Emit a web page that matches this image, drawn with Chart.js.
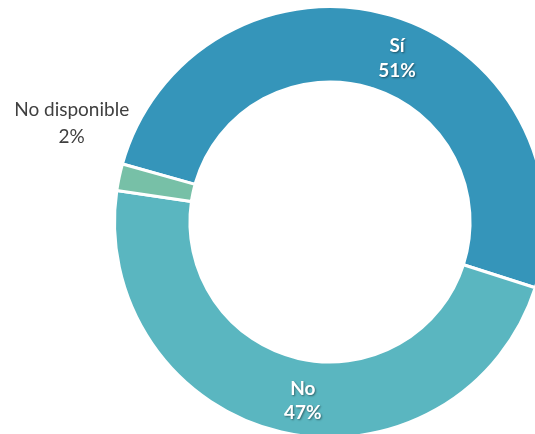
<!DOCTYPE html>
<html>
<head>
<meta charset="utf-8">
<script src="https://cdn.jsdelivr.net/npm/chart.js@4.4.1/dist/chart.umd.min.js"></script>
<style>
  html, body { margin: 0; padding: 0; background: #ffffff; }
  #wrap { position: relative; width: 535px; height: 434px; overflow: hidden; background: #ffffff; }
  canvas { position: absolute; left: 0; top: 0; }
</style>
</head>
<body>
<div id="wrap"><canvas id="c" width="560" height="460"></canvas></div>
<script>
const categories = ['Sí', 'No', 'No disponible'];
const values = [50.6, 47.4, 2.0];
const percentLabels = ['51%', '47%', '2%'];

const colors = ['#3595BA', '#5AB6C0', '#77C0A7'];
// label placement: mode, offset from arc reference point (px), line spacing
const labelStyle = [
  { mode: 'inside', dx: 16, dy: 13, lh: 25, color: '#ffffff', weight: 'bold' },
  { mode: 'inside', dx: 13, dy: 12, lh: 24, color: '#ffffff', weight: 'bold' },
  { mode: 'outside', dx: -49, dy: -48, lh: 27, color: '#404040', weight: 'normal' }
];

const labelPlugin = {
  id: 'sliceLabels',
  afterDatasetsDraw(chart) {
    const ctx = chart.ctx;
    const meta = chart.getDatasetMeta(0);
    meta.data.forEach((arc, i) => {
      const p = arc.getProps(['x', 'y', 'startAngle', 'endAngle', 'innerRadius', 'outerRadius'], true);
      const mid = (p.startAngle + p.endAngle) / 2;
      const st = labelStyle[i];
      const r = st.mode === 'inside' ? (p.innerRadius + p.outerRadius) / 2 : p.outerRadius - 1.5;
      const cx = p.x + Math.cos(mid) * r + st.dx;
      const cy = p.y + Math.sin(mid) * r + st.dy;
      ctx.save();
      ctx.font = st.weight + ' 19px Lato, "Open Sans", sans-serif';
      ctx.fillStyle = st.color;
      ctx.textAlign = 'center';
      ctx.textBaseline = 'alphabetic';
      if (st.mode === 'inside') {
        ctx.shadowColor = 'rgba(0,0,0,0.45)';
        ctx.shadowBlur = 2;
        ctx.shadowOffsetX = 1;
        ctx.shadowOffsetY = 1;
      }
      ctx.fillText(categories[i], cx, cy - st.lh / 2);
      ctx.fillText(percentLabels[i], cx, cy + st.lh / 2);
      ctx.restore();
    });
  }
};

new Chart(document.getElementById('c'), {
  type: 'doughnut',
  data: {
    labels: categories,
    datasets: [{
      data: values,
      backgroundColor: colors,
      borderColor: '#ffffff',
      borderWidth: 3,
      hoverOffset: 0
    }]
  },
  options: {
    responsive: false,
    animation: false,
    rotation: -74.4,
    cutout: '65%',
    layout: { padding: { left: 113, top: 5, right: 13, bottom: 21 } },
    plugins: {
      legend: { display: false },
      tooltip: { enabled: false }
    }
  },
  plugins: [labelPlugin]
});
</script>
</body>
</html>
